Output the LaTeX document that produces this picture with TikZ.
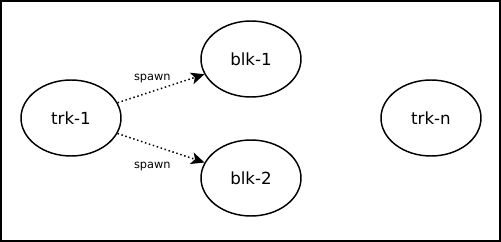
\documentclass[tikz,border=0pt]{standalone}
\usepackage{fontspec}
\setmainfont{DejaVu Sans}
\usetikzlibrary{shapes.geometric,arrows.meta}

\tikzset{
	task/.style={ellipse, draw, line width=1.1pt, minimum width=75pt, minimum height=57pt, font=\fontsize{12.5}{14}\selectfont},
	spawnarrow/.style={dotted, line width=1.1pt, -{Stealth[length=10pt, width=9pt, inset=2.5pt]}},
	lbl/.style={font=\fontsize{8.5}{10}\selectfont, inner sep=1pt}
}

\begin{document}
\begin{tikzpicture}[x=0.75pt, y=-0.75pt]
			\useasboundingbox (0, 0) rectangle (501, 242);
			\draw[line width=1.5pt] (1, 1) rectangle (500, 241);

			\node[task] (trk1) at (71, 118) {trk-1};
			\node[task] (blk1) at (251, 59) {blk-1};
			\node[task] (blk2) at (251, 178) {blk-2};
			\node[task] (trkn) at (431, 118) {trk-n};

			\draw[spawnarrow] (trk1) -- node[lbl, pos=0.4, above=5pt] {spawn} (blk1);
			\draw[spawnarrow] (trk1) -- node[lbl, pos=0.4, below=11.5pt] {spawn} (blk2);
		\end{tikzpicture}
\end{document}
